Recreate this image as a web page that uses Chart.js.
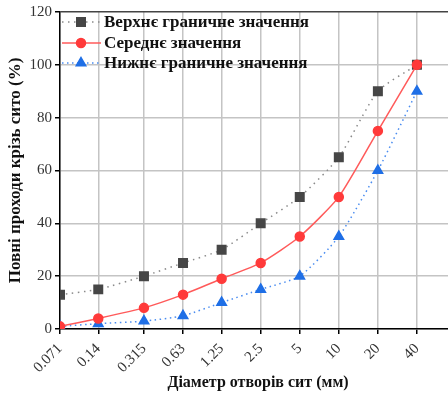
<html>
<head>
<script src="https://cdn.jsdelivr.net/npm/chart.js"></script>
<style>
  body { margin: 0; overflow: hidden; background: #fff; }
  .chart-wrapper { width: 470px; height: 393px; }
</style>
</head>
<body>
<div class="chart-wrapper"><canvas id="chart-1"></canvas></div>
<script>
  // sieve sizes, mm
  const sieves = [0.071, 0.14, 0.315, 0.63, 1.25, 2.5, 5, 10, 20, 40];
  const upperLimit = [13, 15, 20, 25, 30, 40, 50, 65, 90, 100];
  const meanValue = [1, 4, 8, 13, 19, 25, 35, 50, 75, 100];
  const lowerLimit = [1, 2, 3, 5, 10, 15, 20, 35, 60, 90];
  const yTicks = [0, 20, 40, 60, 80, 100, 120];
  const seriesNames = ['Верхнє граничне значення', 'Середнє значення', 'Нижнє граничне значення'];

  const serif = "'Liberation Serif', 'DejaVu Serif', serif";

  function toPoints(values) {
    return sieves.map((s, i) => ({ x: s, y: values[i] }));
  }

  // legend drawn inside the plot, top-left
  const innerLegend = {
    id: 'innerLegend',
    afterDatasetsDraw(chart) {
      const ctx = chart.ctx;
      const rows = [22, 43, 63];
      chart.data.datasets.forEach((ds, i) => {
        const y = rows[i];
        ctx.save();
        ctx.strokeStyle = ds.borderColor;
        ctx.lineWidth = ds.borderWidth;
        ctx.setLineDash(ds.borderDash || []);
        ctx.beginPath();
        ctx.moveTo(62, y);
        ctx.lineTo(101, y);
        ctx.stroke();
        ctx.setLineDash([]);
        ctx.fillStyle = ds.pointBackgroundColor;
        ctx.strokeStyle = ds.pointBorderColor;
        Chart.helpers.drawPoint(ctx, {
          pointStyle: ds.pointStyle, radius: ds.pointRadius, rotation: 0, borderWidth: 1
        }, 81, y);
        ctx.fillStyle = '#111';
        ctx.font = "bold 17px " + serif;
        ctx.textBaseline = 'middle';
        ctx.fillText(ds.label, 104, y + 1);
        ctx.restore();
      });
    }
  };

  const config = {
    type: 'line',
    data: {
      datasets: [
        {
          label: seriesNames[0],
          data: toPoints(upperLimit),
          borderColor: '#8a8a8a',
          borderWidth: 1.5,
          borderDash: [1.5, 4.5],
          pointStyle: 'rect',
          pointRadius: 6,
          pointBackgroundColor: '#464646',
          pointBorderColor: '#464646',
          tension: 0.2,
          order: 3
        },
        {
          label: seriesNames[1],
          data: toPoints(meanValue),
          borderColor: '#ff5a5a',
          borderWidth: 1.5,
          pointStyle: 'circle',
          pointRadius: 4.5,
          pointBackgroundColor: '#ff3a3a',
          pointBorderColor: '#ff3a3a',
          tension: 0.2,
          order: 1
        },
        {
          label: seriesNames[2],
          data: toPoints(lowerLimit),
          borderColor: '#4a8cf0',
          borderWidth: 1.5,
          borderDash: [1.5, 3.5],
          pointStyle: 'triangle',
          pointRadius: 5.5,
          pointBackgroundColor: '#1f6fe6',
          pointBorderColor: '#1f6fe6',
          tension: 0.2,
          order: 2
        }
      ]
    },
    options: {
      responsive: true,
      maintainAspectRatio: false,
      animation: false,
      layout: { padding: { top: 10, right: 14, left: 5, bottom: 0 } },
      plugins: {
        legend: { display: false },
        tooltip: { enabled: false }
      },
      scales: {
        x: {
          type: 'logarithmic',
          min: 0.071,
          max: 80,
          afterBuildTicks(scale) {
            scale.ticks = sieves.map(v => ({ value: v }));
          },
          afterFit(scale) { scale.height = 64; },
          ticks: {
            autoSkip: false,
            minRotation: 45,
            maxRotation: 45,
            color: '#333',
            font: { family: serif, size: 15 },
            padding: 6,
            callback: v => String(v)
          },
          grid: {
            color: '#c4c4c4',
            lineWidth: 1.5,
            tickColor: '#000',
            tickLength: 5
          },
          border: { color: '#000', width: 1.5 },
          title: {
            display: true,
            text: 'Діаметр отворів сит (мм)',
            color: '#111',
            font: { family: serif, size: 16, weight: 'bold' },
            padding: { top: 0, bottom: 1 }
          }
        },
        y: {
          min: 0,
          max: 120,
          afterBuildTicks(scale) {
            scale.ticks = yTicks.map(v => ({ value: v }));
          },
          afterFit(scale) { scale.width = 55; },
          ticks: {
            color: '#333',
            font: { family: serif, size: 15 },
            padding: 3
          },
          grid: {
            color: ctx => ctx.tick && ctx.tick.value === 120 ? '#444' : '#c4c4c4',
            lineWidth: 1.5,
            tickColor: '#000',
            tickLength: 5
          },
          border: { color: '#000', width: 1.5 },
          title: {
            display: true,
            text: 'Повні проходи крізь сито (%)',
            color: '#111',
            font: { family: serif, size: 17, weight: 'bold' },
            padding: { top: 0, bottom: 2 }
          }
        }
      }
    },
    plugins: [innerLegend]
  };

  const chart = new Chart(document.getElementById('chart-1'), config);
</script>
</body>
</html>
